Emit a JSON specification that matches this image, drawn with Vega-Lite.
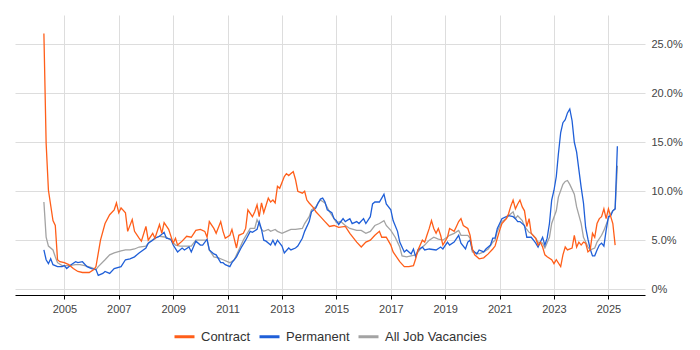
{
  "$schema": "https://vega.github.io/schema/vega-lite/v6.json",
  "width": 630,
  "height": 280,
  "autosize": "none",
  "padding": {"left": 15, "top": 15, "right": 55, "bottom": 55},
  "background": "white",
  "config": {"view": {"stroke": null}, "font": "Liberation Sans"},
  "data": {"values": [
{"date":"2004-04","series":"All Job Vacancies","value":8.9},{"date":"2004-05","series":"All Job Vacancies","value":5.3},{"date":"2004-06","series":"All Job Vacancies","value":4.4},{"date":"2004-08","series":"All Job Vacancies","value":4.0},{"date":"2004-09","series":"All Job Vacancies","value":3.3},{"date":"2004-10","series":"All Job Vacancies","value":2.7},{"date":"2004-12","series":"All Job Vacancies","value":2.4},
{"date":"2005-03","series":"All Job Vacancies","value":2.4},{"date":"2005-06","series":"All Job Vacancies","value":2.5},{"date":"2005-08","series":"All Job Vacancies","value":2.5},{"date":"2005-10","series":"All Job Vacancies","value":2.4},{"date":"2006-01","series":"All Job Vacancies","value":2.2},{"date":"2006-03","series":"All Job Vacancies","value":2.0},{"date":"2006-04","series":"All Job Vacancies","value":2.3},
{"date":"2006-07","series":"All Job Vacancies","value":3.0},{"date":"2006-09","series":"All Job Vacancies","value":3.5},{"date":"2006-11","series":"All Job Vacancies","value":3.7},{"date":"2007-02","series":"All Job Vacancies","value":3.9},{"date":"2007-04","series":"All Job Vacancies","value":4.0},{"date":"2007-06","series":"All Job Vacancies","value":4.0},{"date":"2007-08","series":"All Job Vacancies","value":4.1},
{"date":"2007-10","series":"All Job Vacancies","value":4.3},{"date":"2008-01","series":"All Job Vacancies","value":4.4},{"date":"2008-03","series":"All Job Vacancies","value":4.9},{"date":"2008-05","series":"All Job Vacancies","value":5.2},{"date":"2008-07","series":"All Job Vacancies","value":5.4},{"date":"2008-10","series":"All Job Vacancies","value":5.3},{"date":"2008-12","series":"All Job Vacancies","value":5.0},
{"date":"2009-02","series":"All Job Vacancies","value":4.5},{"date":"2009-04","series":"All Job Vacancies","value":4.4},{"date":"2009-06","series":"All Job Vacancies","value":4.4},{"date":"2009-09","series":"All Job Vacancies","value":4.4},{"date":"2009-11","series":"All Job Vacancies","value":5.0},{"date":"2010-01","series":"All Job Vacancies","value":5.0},{"date":"2010-04","series":"All Job Vacancies","value":5.0},
{"date":"2010-05","series":"All Job Vacancies","value":4.0},{"date":"2010-07","series":"All Job Vacancies","value":3.3},{"date":"2010-09","series":"All Job Vacancies","value":3.2},{"date":"2010-11","series":"All Job Vacancies","value":3.0},{"date":"2011-02","series":"All Job Vacancies","value":2.7},{"date":"2011-04","series":"All Job Vacancies","value":3.0},{"date":"2011-06","series":"All Job Vacancies","value":4.0},
{"date":"2011-08","series":"All Job Vacancies","value":5.0},{"date":"2011-11","series":"All Job Vacancies","value":6.2},{"date":"2012-01","series":"All Job Vacancies","value":6.2},{"date":"2012-02","series":"All Job Vacancies","value":7.1},{"date":"2012-04","series":"All Job Vacancies","value":6.1},{"date":"2012-05","series":"All Job Vacancies","value":5.9},{"date":"2012-07","series":"All Job Vacancies","value":6.1},
{"date":"2012-08","series":"All Job Vacancies","value":5.9},{"date":"2012-10","series":"All Job Vacancies","value":6.1},{"date":"2012-11","series":"All Job Vacancies","value":5.9},{"date":"2013-01","series":"All Job Vacancies","value":5.7},{"date":"2013-03","series":"All Job Vacancies","value":5.9},{"date":"2013-05","series":"All Job Vacancies","value":6.1},{"date":"2013-07","series":"All Job Vacancies","value":6.1},
{"date":"2013-10","series":"All Job Vacancies","value":6.2},{"date":"2013-11","series":"All Job Vacancies","value":6.7},{"date":"2014-01","series":"All Job Vacancies","value":7.4},{"date":"2014-02","series":"All Job Vacancies","value":8.1},{"date":"2014-04","series":"All Job Vacancies","value":8.4},{"date":"2014-05","series":"All Job Vacancies","value":8.8},{"date":"2014-06","series":"All Job Vacancies","value":9.1},
{"date":"2014-08","series":"All Job Vacancies","value":8.8},{"date":"2014-10","series":"All Job Vacancies","value":7.9},{"date":"2014-12","series":"All Job Vacancies","value":7.2},{"date":"2015-01","series":"All Job Vacancies","value":6.8},{"date":"2015-03","series":"All Job Vacancies","value":6.9},{"date":"2015-05","series":"All Job Vacancies","value":6.5},{"date":"2015-07","series":"All Job Vacancies","value":6.2},
{"date":"2015-10","series":"All Job Vacancies","value":6.0},{"date":"2015-12","series":"All Job Vacancies","value":6.0},{"date":"2016-02","series":"All Job Vacancies","value":5.7},{"date":"2016-04","series":"All Job Vacancies","value":5.9},{"date":"2016-06","series":"All Job Vacancies","value":6.5},{"date":"2016-08","series":"All Job Vacancies","value":6.7},{"date":"2016-10","series":"All Job Vacancies","value":7.0},
{"date":"2016-11","series":"All Job Vacancies","value":6.5},{"date":"2017-01","series":"All Job Vacancies","value":6.0},{"date":"2017-03","series":"All Job Vacancies","value":5.3},{"date":"2017-05","series":"All Job Vacancies","value":4.3},{"date":"2017-06","series":"All Job Vacancies","value":3.4},{"date":"2017-08","series":"All Job Vacancies","value":3.3},{"date":"2017-10","series":"All Job Vacancies","value":3.4},
{"date":"2017-12","series":"All Job Vacancies","value":3.5},{"date":"2018-02","series":"All Job Vacancies","value":4.1},{"date":"2018-04","series":"All Job Vacancies","value":4.5},{"date":"2018-06","series":"All Job Vacancies","value":5.0},{"date":"2018-08","series":"All Job Vacancies","value":5.3},{"date":"2018-10","series":"All Job Vacancies","value":5.1},{"date":"2018-12","series":"All Job Vacancies","value":5.0},
{"date":"2019-03","series":"All Job Vacancies","value":5.5},{"date":"2019-05","series":"All Job Vacancies","value":5.7},{"date":"2019-07","series":"All Job Vacancies","value":6.0},{"date":"2019-08","series":"All Job Vacancies","value":5.5},{"date":"2019-11","series":"All Job Vacancies","value":5.5},{"date":"2019-12","series":"All Job Vacancies","value":5.2},{"date":"2020-01","series":"All Job Vacancies","value":3.8},
{"date":"2020-04","series":"All Job Vacancies","value":3.6},{"date":"2020-06","series":"All Job Vacancies","value":3.8},{"date":"2020-08","series":"All Job Vacancies","value":4.1},{"date":"2020-10","series":"All Job Vacancies","value":4.8},{"date":"2020-11","series":"All Job Vacancies","value":5.0},{"date":"2020-12","series":"All Job Vacancies","value":5.9},{"date":"2021-02","series":"All Job Vacancies","value":6.9},
{"date":"2021-04","series":"All Job Vacancies","value":7.2},{"date":"2021-05","series":"All Job Vacancies","value":7.5},{"date":"2021-07","series":"All Job Vacancies","value":7.9},{"date":"2021-08","series":"All Job Vacancies","value":7.2},{"date":"2021-09","series":"All Job Vacancies","value":7.5},{"date":"2021-11","series":"All Job Vacancies","value":7.0},{"date":"2021-12","series":"All Job Vacancies","value":6.4},
{"date":"2022-02","series":"All Job Vacancies","value":5.8},{"date":"2022-03","series":"All Job Vacancies","value":5.7},{"date":"2022-05","series":"All Job Vacancies","value":5.2},{"date":"2022-06","series":"All Job Vacancies","value":4.8},{"date":"2022-08","series":"All Job Vacancies","value":4.7},{"date":"2022-09","series":"All Job Vacancies","value":4.2},{"date":"2022-11","series":"All Job Vacancies","value":5.3},
{"date":"2022-12","series":"All Job Vacancies","value":6.7},{"date":"2023-02","series":"All Job Vacancies","value":8.0},{"date":"2023-03","series":"All Job Vacancies","value":9.4},{"date":"2023-05","series":"All Job Vacancies","value":10.7},{"date":"2023-06","series":"All Job Vacancies","value":11.0},{"date":"2023-07","series":"All Job Vacancies","value":11.1},{"date":"2023-08","series":"All Job Vacancies","value":10.7},
{"date":"2023-10","series":"All Job Vacancies","value":9.7},{"date":"2023-11","series":"All Job Vacancies","value":8.4},{"date":"2024-01","series":"All Job Vacancies","value":6.7},{"date":"2024-02","series":"All Job Vacancies","value":5.3},{"date":"2024-04","series":"All Job Vacancies","value":4.3},{"date":"2024-05","series":"All Job Vacancies","value":4.0},{"date":"2024-07","series":"All Job Vacancies","value":4.2},
{"date":"2024-08","series":"All Job Vacancies","value":4.8},{"date":"2024-10","series":"All Job Vacancies","value":5.5},{"date":"2024-11","series":"All Job Vacancies","value":6.0},{"date":"2025-01","series":"All Job Vacancies","value":7.2},{"date":"2025-02","series":"All Job Vacancies","value":7.7},{"date":"2025-03","series":"All Job Vacancies","value":8.0},{"date":"2025-04","series":"All Job Vacancies","value":8.2},
{"date":"2025-05","series":"All Job Vacancies","value":12.6},
{"date":"2004-04","series":"Permanent","value":4.0},{"date":"2004-05","series":"Permanent","value":3.0},{"date":"2004-06","series":"Permanent","value":2.6},{"date":"2004-07","series":"Permanent","value":3.1},{"date":"2004-08","series":"Permanent","value":2.5},{"date":"2004-10","series":"Permanent","value":2.3},{"date":"2004-12","series":"Permanent","value":2.3},
{"date":"2005-01","series":"Permanent","value":2.4},{"date":"2005-02","series":"Permanent","value":2.1},{"date":"2005-04","series":"Permanent","value":2.5},{"date":"2005-06","series":"Permanent","value":2.8},{"date":"2005-07","series":"Permanent","value":2.7},{"date":"2005-09","series":"Permanent","value":2.8},{"date":"2005-11","series":"Permanent","value":2.3},
{"date":"2006-01","series":"Permanent","value":2.1},{"date":"2006-03","series":"Permanent","value":2.0},{"date":"2006-04","series":"Permanent","value":1.4},{"date":"2006-06","series":"Permanent","value":1.6},{"date":"2006-07","series":"Permanent","value":1.8},{"date":"2006-09","series":"Permanent","value":1.6},{"date":"2006-11","series":"Permanent","value":2.1},
{"date":"2007-02","series":"Permanent","value":2.3},{"date":"2007-04","series":"Permanent","value":3.0},{"date":"2007-06","series":"Permanent","value":3.1},{"date":"2007-08","series":"Permanent","value":3.3},{"date":"2007-10","series":"Permanent","value":3.7},{"date":"2008-01","series":"Permanent","value":4.2},{"date":"2008-02","series":"Permanent","value":4.7},
{"date":"2008-04","series":"Permanent","value":5.0},{"date":"2008-05","series":"Permanent","value":5.2},{"date":"2008-07","series":"Permanent","value":5.4},{"date":"2008-09","series":"Permanent","value":5.8},{"date":"2008-10","series":"Permanent","value":5.2},{"date":"2008-12","series":"Permanent","value":5.1},{"date":"2009-01","series":"Permanent","value":4.5},
{"date":"2009-03","series":"Permanent","value":3.8},{"date":"2009-05","series":"Permanent","value":4.2},{"date":"2009-06","series":"Permanent","value":4.0},{"date":"2009-08","series":"Permanent","value":4.3},{"date":"2009-09","series":"Permanent","value":3.8},{"date":"2009-11","series":"Permanent","value":4.9},{"date":"2010-01","series":"Permanent","value":4.5},
{"date":"2010-02","series":"Permanent","value":4.5},{"date":"2010-04","series":"Permanent","value":5.1},{"date":"2010-05","series":"Permanent","value":4.0},{"date":"2010-07","series":"Permanent","value":3.6},{"date":"2010-08","series":"Permanent","value":3.5},{"date":"2010-10","series":"Permanent","value":2.7},{"date":"2010-11","series":"Permanent","value":2.7},
{"date":"2010-12","series":"Permanent","value":2.5},{"date":"2011-02","series":"Permanent","value":2.3},{"date":"2011-03","series":"Permanent","value":2.7},{"date":"2011-05","series":"Permanent","value":3.3},{"date":"2011-07","series":"Permanent","value":4.2},{"date":"2011-09","series":"Permanent","value":5.0},{"date":"2011-11","series":"Permanent","value":5.9},
{"date":"2011-12","series":"Permanent","value":5.8},{"date":"2012-02","series":"Permanent","value":6.1},{"date":"2012-03","series":"Permanent","value":6.9},{"date":"2012-04","series":"Permanent","value":6.1},{"date":"2012-05","series":"Permanent","value":5.0},{"date":"2012-06","series":"Permanent","value":4.9},{"date":"2012-08","series":"Permanent","value":4.5},
{"date":"2012-09","series":"Permanent","value":5.0},{"date":"2012-10","series":"Permanent","value":4.5},{"date":"2012-11","series":"Permanent","value":5.0},{"date":"2013-01","series":"Permanent","value":4.4},{"date":"2013-02","series":"Permanent","value":3.7},{"date":"2013-04","series":"Permanent","value":4.2},{"date":"2013-05","series":"Permanent","value":4.0},
{"date":"2013-07","series":"Permanent","value":4.2},{"date":"2013-08","series":"Permanent","value":4.4},{"date":"2013-10","series":"Permanent","value":5.2},{"date":"2013-11","series":"Permanent","value":5.9},{"date":"2014-01","series":"Permanent","value":6.9},{"date":"2014-02","series":"Permanent","value":7.9},{"date":"2014-04","series":"Permanent","value":8.3},
{"date":"2014-05","series":"Permanent","value":8.8},{"date":"2014-06","series":"Permanent","value":9.2},{"date":"2014-07","series":"Permanent","value":9.3},{"date":"2014-08","series":"Permanent","value":8.9},{"date":"2014-09","series":"Permanent","value":8.1},{"date":"2014-11","series":"Permanent","value":7.8},{"date":"2014-12","series":"Permanent","value":7.2},
{"date":"2015-01","series":"Permanent","value":7.0},{"date":"2015-02","series":"Permanent","value":6.6},{"date":"2015-04","series":"Permanent","value":7.2},{"date":"2015-05","series":"Permanent","value":6.9},{"date":"2015-07","series":"Permanent","value":7.2},{"date":"2015-08","series":"Permanent","value":6.7},{"date":"2015-10","series":"Permanent","value":6.9},
{"date":"2015-11","series":"Permanent","value":6.7},{"date":"2016-01","series":"Permanent","value":7.2},{"date":"2016-02","series":"Permanent","value":6.7},{"date":"2016-04","series":"Permanent","value":7.4},{"date":"2016-05","series":"Permanent","value":8.7},{"date":"2016-06","series":"Permanent","value":8.9},{"date":"2016-08","series":"Permanent","value":8.9},
{"date":"2016-09","series":"Permanent","value":9.3},{"date":"2016-10","series":"Permanent","value":9.7},{"date":"2016-11","series":"Permanent","value":8.7},{"date":"2017-01","series":"Permanent","value":8.1},{"date":"2017-02","series":"Permanent","value":7.0},{"date":"2017-04","series":"Permanent","value":5.9},{"date":"2017-05","series":"Permanent","value":4.8},
{"date":"2017-07","series":"Permanent","value":3.8},{"date":"2017-08","series":"Permanent","value":4.0},{"date":"2017-10","series":"Permanent","value":3.6},{"date":"2017-11","series":"Permanent","value":4.1},{"date":"2017-12","series":"Permanent","value":3.3},{"date":"2018-01","series":"Permanent","value":4.0},{"date":"2018-03","series":"Permanent","value":4.3},
{"date":"2018-04","series":"Permanent","value":4.0},{"date":"2018-06","series":"Permanent","value":4.1},{"date":"2018-09","series":"Permanent","value":4.0},{"date":"2018-11","series":"Permanent","value":4.3},{"date":"2018-12","series":"Permanent","value":4.1},{"date":"2019-02","series":"Permanent","value":4.8},{"date":"2019-03","series":"Permanent","value":4.5},
{"date":"2019-05","series":"Permanent","value":4.8},{"date":"2019-07","series":"Permanent","value":5.5},{"date":"2019-08","series":"Permanent","value":4.7},{"date":"2019-10","series":"Permanent","value":4.1},{"date":"2019-11","series":"Permanent","value":4.8},{"date":"2019-12","series":"Permanent","value":5.0},{"date":"2020-01","series":"Permanent","value":4.0},
{"date":"2020-03","series":"Permanent","value":3.6},{"date":"2020-04","series":"Permanent","value":4.0},{"date":"2020-06","series":"Permanent","value":3.8},{"date":"2020-07","series":"Permanent","value":4.1},{"date":"2020-09","series":"Permanent","value":4.5},{"date":"2020-10","series":"Permanent","value":5.2},{"date":"2020-11","series":"Permanent","value":5.2},
{"date":"2020-12","series":"Permanent","value":6.2},{"date":"2021-02","series":"Permanent","value":7.2},{"date":"2021-04","series":"Permanent","value":7.4},{"date":"2021-05","series":"Permanent","value":7.5},{"date":"2021-07","series":"Permanent","value":7.4},{"date":"2021-08","series":"Permanent","value":7.2},{"date":"2021-09","series":"Permanent","value":6.9},
{"date":"2021-10","series":"Permanent","value":6.9},{"date":"2021-12","series":"Permanent","value":6.5},{"date":"2022-01","series":"Permanent","value":5.3},{"date":"2022-03","series":"Permanent","value":5.3},{"date":"2022-04","series":"Permanent","value":5.0},{"date":"2022-05","series":"Permanent","value":4.7},{"date":"2022-06","series":"Permanent","value":4.3},
{"date":"2022-08","series":"Permanent","value":5.3},{"date":"2022-09","series":"Permanent","value":4.5},{"date":"2022-10","series":"Permanent","value":5.2},{"date":"2022-11","series":"Permanent","value":6.7},{"date":"2022-12","series":"Permanent","value":9.1},{"date":"2023-01","series":"Permanent","value":10.1},{"date":"2023-02","series":"Permanent","value":11.5},
{"date":"2023-03","series":"Permanent","value":13.8},{"date":"2023-04","series":"Permanent","value":16.0},{"date":"2023-05","series":"Permanent","value":17.0},{"date":"2023-06","series":"Permanent","value":17.3},{"date":"2023-07","series":"Permanent","value":18.0},{"date":"2023-08","series":"Permanent","value":18.4},{"date":"2023-09","series":"Permanent","value":17.2},
{"date":"2023-10","series":"Permanent","value":15.0},{"date":"2023-11","series":"Permanent","value":14.0},{"date":"2023-12","series":"Permanent","value":12.2},{"date":"2024-01","series":"Permanent","value":10.4},{"date":"2024-02","series":"Permanent","value":8.8},{"date":"2024-03","series":"Permanent","value":6.3},{"date":"2024-04","series":"Permanent","value":5.1},
{"date":"2024-05","series":"Permanent","value":4.1},{"date":"2024-06","series":"Permanent","value":3.4},{"date":"2024-07","series":"Permanent","value":3.4},{"date":"2024-08","series":"Permanent","value":4.0},{"date":"2024-09","series":"Permanent","value":4.5},{"date":"2024-10","series":"Permanent","value":4.7},{"date":"2024-11","series":"Permanent","value":4.4},
{"date":"2024-12","series":"Permanent","value":6.0},{"date":"2025-01","series":"Permanent","value":7.4},{"date":"2025-02","series":"Permanent","value":7.5},{"date":"2025-03","series":"Permanent","value":8.0},{"date":"2025-04","series":"Permanent","value":8.2},{"date":"2025-05","series":"Permanent","value":14.6},
{"date":"2004-04","series":"Contract","value":26.1},{"date":"2004-05","series":"Contract","value":14.9},{"date":"2004-06","series":"Contract","value":10.1},{"date":"2004-08","series":"Contract","value":7.0},{"date":"2004-09","series":"Contract","value":6.5},{"date":"2004-10","series":"Contract","value":3.0},{"date":"2004-11","series":"Contract","value":2.8},
{"date":"2005-01","series":"Contract","value":2.7},{"date":"2005-03","series":"Contract","value":2.5},{"date":"2005-05","series":"Contract","value":2.1},{"date":"2005-07","series":"Contract","value":1.8},{"date":"2005-09","series":"Contract","value":1.7},{"date":"2005-12","series":"Contract","value":1.7},{"date":"2006-02","series":"Contract","value":2.0},
{"date":"2006-03","series":"Contract","value":2.3},{"date":"2006-05","series":"Contract","value":5.0},{"date":"2006-07","series":"Contract","value":6.7},{"date":"2006-09","series":"Contract","value":7.6},{"date":"2006-11","series":"Contract","value":8.1},{"date":"2006-12","series":"Contract","value":8.8},{"date":"2007-01","series":"Contract","value":7.8},
{"date":"2007-02","series":"Contract","value":8.3},{"date":"2007-04","series":"Contract","value":7.8},{"date":"2007-05","series":"Contract","value":5.9},{"date":"2007-07","series":"Contract","value":7.1},{"date":"2007-08","series":"Contract","value":5.9},{"date":"2007-10","series":"Contract","value":5.2},{"date":"2007-11","series":"Contract","value":4.9},
{"date":"2008-01","series":"Contract","value":6.4},{"date":"2008-02","series":"Contract","value":5.0},{"date":"2008-04","series":"Contract","value":5.7},{"date":"2008-05","series":"Contract","value":5.2},{"date":"2008-07","series":"Contract","value":6.6},{"date":"2008-08","series":"Contract","value":5.7},{"date":"2008-09","series":"Contract","value":6.8},
{"date":"2008-11","series":"Contract","value":6.1},{"date":"2009-01","series":"Contract","value":4.7},{"date":"2009-02","series":"Contract","value":5.2},{"date":"2009-03","series":"Contract","value":4.5},{"date":"2009-05","series":"Contract","value":4.9},{"date":"2009-07","series":"Contract","value":5.4},{"date":"2009-09","series":"Contract","value":5.3},
{"date":"2009-11","series":"Contract","value":6.0},{"date":"2010-01","series":"Contract","value":6.1},{"date":"2010-03","series":"Contract","value":5.9},{"date":"2010-04","series":"Contract","value":5.3},{"date":"2010-05","series":"Contract","value":6.9},{"date":"2010-07","series":"Contract","value":6.2},{"date":"2010-08","series":"Contract","value":5.7},
{"date":"2010-10","series":"Contract","value":6.9},{"date":"2010-11","series":"Contract","value":5.9},{"date":"2010-12","series":"Contract","value":5.2},{"date":"2011-02","series":"Contract","value":5.5},{"date":"2011-03","series":"Contract","value":6.1},{"date":"2011-05","series":"Contract","value":4.2},{"date":"2011-06","series":"Contract","value":5.5},
{"date":"2011-08","series":"Contract","value":5.7},{"date":"2011-09","series":"Contract","value":6.2},{"date":"2011-10","series":"Contract","value":8.1},{"date":"2011-12","series":"Contract","value":7.4},{"date":"2012-01","series":"Contract","value":7.9},{"date":"2012-02","series":"Contract","value":8.6},{"date":"2012-03","series":"Contract","value":7.4},
{"date":"2012-04","series":"Contract","value":8.8},{"date":"2012-05","series":"Contract","value":7.8},{"date":"2012-07","series":"Contract","value":9.3},{"date":"2012-08","series":"Contract","value":8.9},{"date":"2012-09","series":"Contract","value":9.1},{"date":"2012-10","series":"Contract","value":8.8},{"date":"2012-11","series":"Contract","value":10.5},
{"date":"2012-12","series":"Contract","value":10.3},{"date":"2013-02","series":"Contract","value":11.5},{"date":"2013-03","series":"Contract","value":11.8},{"date":"2013-04","series":"Contract","value":11.6},{"date":"2013-05","series":"Contract","value":11.8},{"date":"2013-06","series":"Contract","value":12.0},{"date":"2013-07","series":"Contract","value":11.2},
{"date":"2013-08","series":"Contract","value":10.0},{"date":"2013-10","series":"Contract","value":9.8},{"date":"2013-11","series":"Contract","value":10.0},{"date":"2013-12","series":"Contract","value":9.1},{"date":"2014-01","series":"Contract","value":8.8},{"date":"2014-03","series":"Contract","value":8.3},{"date":"2014-04","series":"Contract","value":7.9},
{"date":"2014-06","series":"Contract","value":7.4},{"date":"2014-08","series":"Contract","value":6.9},{"date":"2014-10","series":"Contract","value":6.4},{"date":"2014-12","series":"Contract","value":6.5},{"date":"2015-02","series":"Contract","value":6.3},{"date":"2015-05","series":"Contract","value":6.4},{"date":"2015-07","series":"Contract","value":5.7},
{"date":"2015-10","series":"Contract","value":4.8},{"date":"2015-12","series":"Contract","value":4.3},{"date":"2016-02","series":"Contract","value":4.8},{"date":"2016-04","series":"Contract","value":5.0},{"date":"2016-06","series":"Contract","value":5.5},{"date":"2016-08","series":"Contract","value":5.9},{"date":"2016-09","series":"Contract","value":5.3},
{"date":"2016-11","series":"Contract","value":5.3},{"date":"2017-01","series":"Contract","value":4.5},{"date":"2017-02","series":"Contract","value":3.8},{"date":"2017-05","series":"Contract","value":2.8},{"date":"2017-07","series":"Contract","value":2.3},{"date":"2017-09","series":"Contract","value":2.3},{"date":"2017-11","series":"Contract","value":2.4},
{"date":"2017-12","series":"Contract","value":3.1},{"date":"2018-01","series":"Contract","value":4.0},{"date":"2018-03","series":"Contract","value":5.0},{"date":"2018-04","series":"Contract","value":4.8},{"date":"2018-05","series":"Contract","value":5.5},{"date":"2018-06","series":"Contract","value":6.2},{"date":"2018-07","series":"Contract","value":7.0},
{"date":"2018-08","series":"Contract","value":6.2},{"date":"2018-09","series":"Contract","value":5.7},{"date":"2018-10","series":"Contract","value":6.2},{"date":"2018-11","series":"Contract","value":5.5},{"date":"2018-12","series":"Contract","value":4.5},{"date":"2019-02","series":"Contract","value":5.3},{"date":"2019-03","series":"Contract","value":6.2},
{"date":"2019-05","series":"Contract","value":5.9},{"date":"2019-06","series":"Contract","value":6.4},{"date":"2019-07","series":"Contract","value":6.9},{"date":"2019-08","series":"Contract","value":7.2},{"date":"2019-09","series":"Contract","value":6.5},{"date":"2019-11","series":"Contract","value":6.2},{"date":"2019-12","series":"Contract","value":5.5},
{"date":"2020-01","series":"Contract","value":4.1},{"date":"2020-02","series":"Contract","value":3.5},{"date":"2020-04","series":"Contract","value":3.1},{"date":"2020-06","series":"Contract","value":3.2},{"date":"2020-08","series":"Contract","value":3.6},{"date":"2020-10","series":"Contract","value":4.1},{"date":"2020-11","series":"Contract","value":4.4},
{"date":"2021-01","series":"Contract","value":6.0},{"date":"2021-02","series":"Contract","value":6.7},{"date":"2021-04","series":"Contract","value":7.2},{"date":"2021-05","series":"Contract","value":7.7},{"date":"2021-06","series":"Contract","value":8.5},{"date":"2021-07","series":"Contract","value":9.1},{"date":"2021-08","series":"Contract","value":8.2},
{"date":"2021-09","series":"Contract","value":8.7},{"date":"2021-10","series":"Contract","value":9.1},{"date":"2021-11","series":"Contract","value":8.4},{"date":"2021-12","series":"Contract","value":8.0},{"date":"2022-01","series":"Contract","value":6.4},{"date":"2022-02","series":"Contract","value":7.2},{"date":"2022-03","series":"Contract","value":5.7},
{"date":"2022-05","series":"Contract","value":5.2},{"date":"2022-06","series":"Contract","value":4.5},{"date":"2022-07","series":"Contract","value":4.8},{"date":"2022-08","series":"Contract","value":4.3},{"date":"2022-09","series":"Contract","value":3.5},{"date":"2022-10","series":"Contract","value":3.3},{"date":"2022-12","series":"Contract","value":3.0},
{"date":"2023-01","series":"Contract","value":2.6},{"date":"2023-02","series":"Contract","value":3.0},{"date":"2023-04","series":"Contract","value":2.3},{"date":"2023-05","series":"Contract","value":3.5},{"date":"2023-06","series":"Contract","value":4.3},{"date":"2023-07","series":"Contract","value":4.0},{"date":"2023-09","series":"Contract","value":4.2},
{"date":"2023-10","series":"Contract","value":5.5},{"date":"2023-11","series":"Contract","value":4.3},{"date":"2023-12","series":"Contract","value":4.8},{"date":"2024-01","series":"Contract","value":4.5},{"date":"2024-02","series":"Contract","value":4.8},{"date":"2024-03","series":"Contract","value":4.7},{"date":"2024-04","series":"Contract","value":3.8},
{"date":"2024-05","series":"Contract","value":4.0},{"date":"2024-06","series":"Contract","value":5.7},{"date":"2024-07","series":"Contract","value":5.3},{"date":"2024-08","series":"Contract","value":6.7},{"date":"2024-09","series":"Contract","value":7.2},{"date":"2024-10","series":"Contract","value":7.4},{"date":"2024-11","series":"Contract","value":8.2},
{"date":"2024-12","series":"Contract","value":7.2},{"date":"2025-01","series":"Contract","value":8.2},{"date":"2025-02","series":"Contract","value":7.4},{"date":"2025-03","series":"Contract","value":6.7},{"date":"2025-04","series":"Contract","value":4.5}
  ]},
  "mark": {"type": "line", "strokeWidth": 1.3},
  "encoding": {
    "x": {
      "field": "date", "type": "temporal",
      "scale": {"domain": [{"year": 2003, "month": 3, "date": 10}, {"year": 2026, "month": 5, "date": 7}]},
      "axis": {
        "title": null, "format": "%Y",
        "values": [{"year": 2005}, {"year": 2007}, {"year": 2009}, {"year": 2011}, {"year": 2013}, {"year": 2015}, {"year": 2017}, {"year": 2019}, {"year": 2021}, {"year": 2023}, {"year": 2025}],
        "grid": true, "gridColor": "#dddddd", "gridWidth": 1,
        "domainColor": "#000000", "domainWidth": 1,
        "tickColor": "#000000", "tickSize": 4,
        "labelFontSize": 11, "labelColor": "#444444", "labelPadding": 4
      }
    },
    "y": {
      "field": "value", "type": "quantitative",
      "scale": {"domain": [-0.6, 28], "nice": false, "zero": false},
      "axis": {
        "title": null, "orient": "right",
        "values": [0, 5, 10, 15, 20, 25],
        "labelExpr": "datum.value == 0 ? '0%' : format(datum.value, '.1f') + '%'",
        "grid": true, "gridColor": "#dddddd", "gridWidth": 1,
        "domain": false, "ticks": false, "labelPadding": 6,
        "labelFontSize": 11, "labelColor": "#444444"
      }
    },
    "color": {
      "field": "series", "type": "nominal",
      "scale": {"domain": ["Contract", "Permanent", "All Job Vacancies"], "range": ["#ff5e19", "#1f5fd8", "#a3a3a3"]},
      "legend": {
        "title": null, "orient": "none", "legendX": 158, "legendY": 310, "direction": "horizontal",
        "padding": 0,
        "symbolType": "stroke", "symbolStrokeWidth": 3, "symbolSize": 400,
        "labelFontSize": 13, "labelColor": "#333333", "labelOffset": 5, "columnPadding": 2
      }
    }
  }
}
